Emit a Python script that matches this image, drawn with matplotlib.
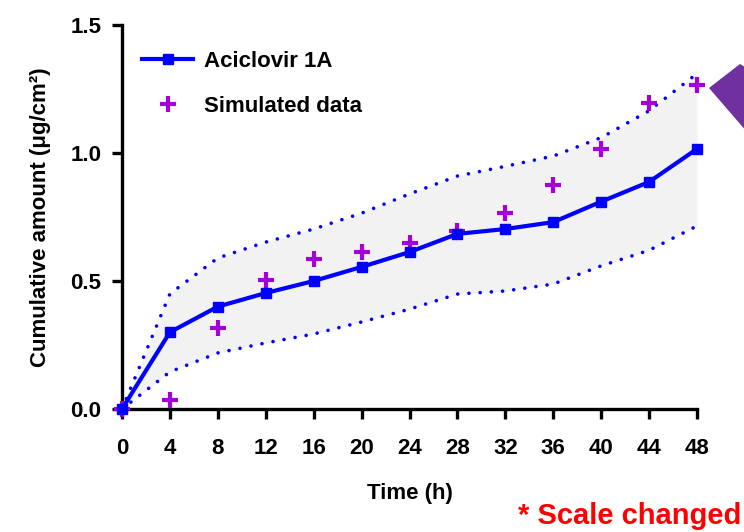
import matplotlib
matplotlib.use("Agg")
import matplotlib.pyplot as plt
from matplotlib.patches import Polygon

plt.rcParams['font.family'] = ['Liberation Sans', 'DejaVu Sans']
plt.rcParams['font.weight'] = 'bold'

time_h = [0, 4, 8, 12, 16, 20, 24, 28, 32, 36, 40, 44, 48]
aciclovir_1a = [0.0, 0.30, 0.40, 0.453, 0.50, 0.555, 0.613, 0.684, 0.703, 0.73, 0.81, 0.887, 1.016]
simulated = [0.0, 0.035, 0.316, 0.504, 0.586, 0.613, 0.648, 0.695, 0.766, 0.875, 1.016, 1.195, 1.266]
upper_band = [0.0, 0.45, 0.59, 0.652, 0.703, 0.765, 0.84, 0.91, 0.948, 0.988, 1.06, 1.165, 1.31]
lower_band = [0.0, 0.145, 0.219, 0.258, 0.293, 0.34, 0.39, 0.449, 0.461, 0.488, 0.559, 0.62, 0.715]

fig = plt.figure(figsize=(7.44, 5.32), dpi=100)
ax = fig.add_axes([122 / 744, 1 - 409 / 532, (697 - 122) / 744, (409 - 25) / 532])

blue = '#0000FF'
purple = '#A300DA'

ax.fill_between(time_h, lower_band, upper_band, color='#F2F2F2', lw=0, zorder=1)
dots = dict(color=blue, lw=2.6, linestyle=(0, (0.01, 3.1)), dash_capstyle='round', zorder=2)
ax.plot(time_h, upper_band, **dots)
ax.plot(time_h, lower_band, **dots)

ax.plot(time_h, aciclovir_1a, color=blue, lw=3, marker='s', ms=6.5,
        label='Aciclovir 1A', zorder=4, clip_on=False)
ax.plot(time_h, simulated, ls='none', marker='+', ms=11, mew=3, color=purple,
        label='Simulated data', zorder=3, clip_on=False)

ax.set_xlim(0, 48)
ax.set_ylim(0, 1.5)
ax.set_xticks(time_h)
ax.set_yticks([0.0, 0.5, 1.0, 1.5])
ax.set_yticklabels(['0.0', '0.5', '1.0', '1.5'])

for side in ['top', 'right']:
    ax.spines[side].set_visible(False)
for side in ['left', 'bottom']:
    ax.spines[side].set_linewidth(2.4)
ax.tick_params(width=2.4, length=7, labelsize=16)
ax.tick_params(axis='x', pad=14)
ax.tick_params(axis='y', pad=8)

ax.set_xlabel('Time (h)', fontsize=16, fontweight='bold', labelpad=17)
ax.set_ylabel('Cumulative amount (μg/cm²)', fontsize=16, fontweight='bold', labelpad=14)

ax.legend(loc='upper left', bbox_to_anchor=(0.0, 0.985), frameon=False, fontsize=16,
          handlelength=2.3, handletextpad=0.5, labelspacing=1.1)

# purple pointer on the right edge
arrow = Polygon([(709 / 744, 1 - 88 / 532), (740 / 744, 1 - 64 / 532),
                 (800 / 744, 1 - 100 / 532), (760 / 744, 1 - 147 / 532)],
                closed=True, transform=fig.transFigure, color='#7030A0', lw=0)
fig.patches.append(arrow)

fig.text(741 / 744, 1 - 524 / 532, '* Scale changed', color='#FF0000', fontsize=21,
         fontweight='bold', ha='right', va='baseline')

fig.savefig('out.png', dpi=100)
